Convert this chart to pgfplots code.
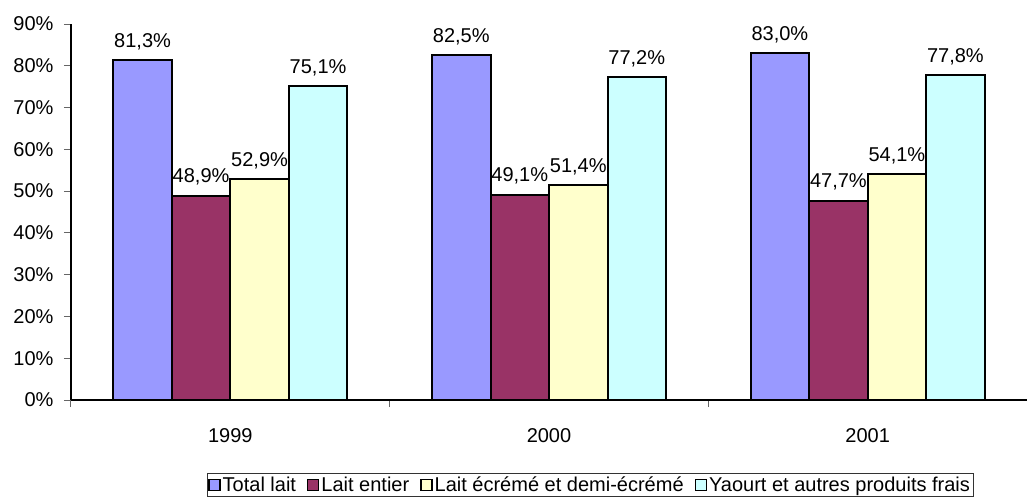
\documentclass[border=0pt]{standalone}
\usepackage{pgfplots}
\pgfplotsset{compat=1.18}
\usepackage{fontspec}
\setmainfont{Liberation Sans}
\definecolor{cA}{HTML}{9999FF}
\definecolor{cB}{HTML}{993366}
\definecolor{cC}{HTML}{FFFFCC}
\definecolor{cD}{HTML}{CCFFFF}
\begin{document}
\begin{tikzpicture}[font=\fontsize{20}{23}\selectfont]
\useasboundingbox (-71pt,-103pt) rectangle (956pt,400pt);
\begin{axis}[
  /pgf/number format/assume math mode=true,
  scale only axis, width=956pt, height=376pt,
  xmin=-0.5, xmax=2.5, ymin=0, ymax=90,
  axis x line*=bottom, axis y line*=left,
  axis line style={line width=1.2pt, -},
  ybar=0pt, bar width=58.5pt,
  xtick={0,1,2}, xticklabels={1999,2000,2001},
  major x tick style={draw=none},
  minor xtick={-0.5,0.5,1.5,2.5},
  minor tick length=7pt,
  xticklabel style={yshift=-18pt},
  ytick={0,10,...,90},
  yticklabel={\pgfmathprintnumber{\tick}\%},
  major tick length=7pt,
  tick align=outside,
  tick style={line width=1pt, color=black!60},
  yticklabel style={xshift=-7pt},
  nodes near coords={\pgfmathprintnumber[fixed,fixed zerofill,precision=1,use comma]{\pgfplotspointmeta}\%},
  nodes near coords style={font=\fontsize{20}{23}\selectfont, yshift=6pt},
  every axis plot/.append style={draw=black, line width=2pt},
  legend columns=4,
  legend style={at={(0.543,-0.226)}, anchor=center, draw=black!80, line width=0.8pt,
    font=\fontsize{20}{23}\selectfont, inner sep=1pt,
    /tikz/every even column/.append style={column sep=9pt}},
  legend image code/.code={\draw[#1, line width=1.4pt] (0pt,-5.5pt) rectangle (11pt,5.5pt);},
]
\addplot[fill=cA] coordinates {(0,81.3) (1,82.5) (2,83.0)};
\addplot[fill=cB] coordinates {(0,48.9) (1,49.1) (2,47.7)};
\addplot[fill=cC] coordinates {(0,52.9) (1,51.4) (2,54.1)};
\addplot[fill=cD] coordinates {(0,75.1) (1,77.2) (2,77.8)};
\legend{Total lait, Lait entier, Lait écrémé et demi-écrémé, Yaourt et autres produits frais}
\end{axis}
\end{tikzpicture}
\end{document}
